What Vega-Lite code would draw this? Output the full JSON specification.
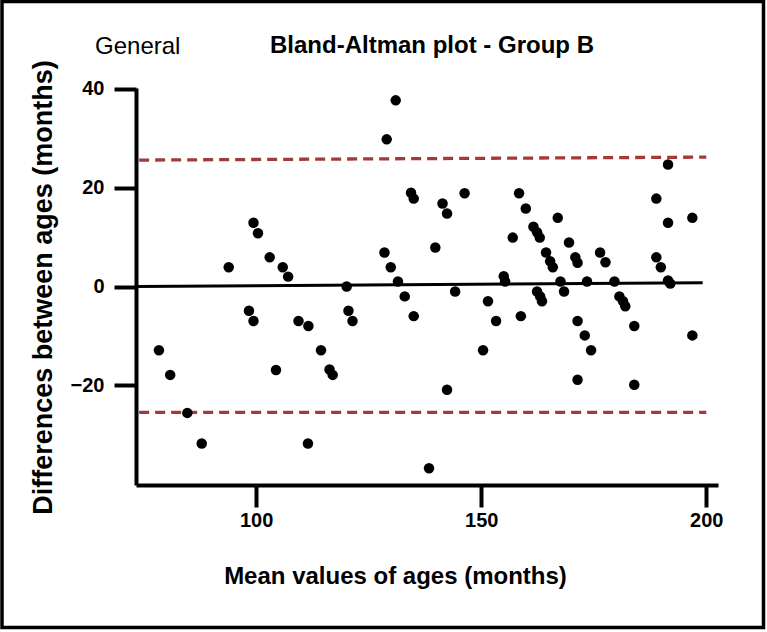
{
  "$schema": "https://vega.github.io/schema/vega-lite/v6.json",
  "width": 582,
  "height": 397,
  "autosize": {"type": "none"},
  "padding": {"left": 136, "top": 88, "right": 49, "bottom": 147},
  "background": "white",
  "config": {"view": {"stroke": null}, "font": "Liberation Sans"},
  "title": {
    "text": "Bland-Altman plot - Group B",
    "font": "Liberation Sans",
    "fontSize": 24,
    "fontWeight": "bold",
    "color": "black",
    "anchor": "middle",
    "dx": 5,
    "offset": -58
  },
  "datasets": {
    "points": [
      {"mean": 78.4, "diff": -12.9}, {"mean": 80.9, "diff": -17.9}, {"mean": 84.7, "diff": -25.6}, {"mean": 87.9, "diff": -31.8},
      {"mean": 93.9, "diff": 3.9}, {"mean": 99.4, "diff": 12.9}, {"mean": 100.4, "diff": 10.8}, {"mean": 98.4, "diff": -4.9},
      {"mean": 99.4, "diff": -7.0}, {"mean": 103.0, "diff": 5.9}, {"mean": 104.4, "diff": -16.9}, {"mean": 105.9, "diff": 3.9},
      {"mean": 107.1, "diff": 2.0}, {"mean": 109.4, "diff": -7.0}, {"mean": 111.6, "diff": -8.0}, {"mean": 111.5, "diff": -31.8},
      {"mean": 114.4, "diff": -12.9}, {"mean": 116.3, "diff": -16.8}, {"mean": 117.0, "diff": -17.9}, {"mean": 120.1, "diff": 0.0},
      {"mean": 120.5, "diff": -4.9}, {"mean": 121.4, "diff": -7.0}, {"mean": 128.5, "diff": 6.9}, {"mean": 129.0, "diff": 29.8},
      {"mean": 131.0, "diff": 37.7}, {"mean": 129.9, "diff": 3.9}, {"mean": 131.5, "diff": 1.0}, {"mean": 133.0, "diff": -2.0},
      {"mean": 135.0, "diff": -6.0}, {"mean": 134.4, "diff": 19.0}, {"mean": 135.0, "diff": 17.8}, {"mean": 138.4, "diff": -36.8},
      {"mean": 139.8, "diff": 7.9}, {"mean": 141.4, "diff": 16.8}, {"mean": 142.4, "diff": 14.8}, {"mean": 142.4, "diff": -20.9},
      {"mean": 144.2, "diff": -1.0}, {"mean": 146.3, "diff": 18.9}, {"mean": 150.4, "diff": -12.9}, {"mean": 151.5, "diff": -3.0},
      {"mean": 153.3, "diff": -7.0}, {"mean": 155.0, "diff": 2.1}, {"mean": 155.3, "diff": 1.0}, {"mean": 158.8, "diff": -6.0},
      {"mean": 157.0, "diff": 9.9}, {"mean": 158.4, "diff": 18.9}, {"mean": 159.9, "diff": 15.8}, {"mean": 161.6, "diff": 12.1},
      {"mean": 162.4, "diff": 11.0}, {"mean": 163.0, "diff": 9.9}, {"mean": 164.4, "diff": 6.9}, {"mean": 165.3, "diff": 5.1},
      {"mean": 165.9, "diff": 3.9}, {"mean": 162.4, "diff": -1.0}, {"mean": 163.1, "diff": -2.0}, {"mean": 163.5, "diff": -3.0},
      {"mean": 167.0, "diff": 13.9}, {"mean": 167.6, "diff": 1.0}, {"mean": 168.4, "diff": -1.0}, {"mean": 169.5, "diff": 8.9},
      {"mean": 170.9, "diff": 5.9}, {"mean": 171.4, "diff": 4.8}, {"mean": 171.4, "diff": -7.0}, {"mean": 173.0, "diff": -9.9},
      {"mean": 171.4, "diff": -18.9}, {"mean": 173.5, "diff": 1.0}, {"mean": 174.4, "diff": -12.9}, {"mean": 176.4, "diff": 6.9},
      {"mean": 177.6, "diff": 4.9}, {"mean": 179.6, "diff": 1.0}, {"mean": 180.7, "diff": -2.0}, {"mean": 181.5, "diff": -3.0},
      {"mean": 182.0, "diff": -4.0}, {"mean": 184.0, "diff": -8.0}, {"mean": 184.0, "diff": -19.9}, {"mean": 188.9, "diff": 17.8},
      {"mean": 188.9, "diff": 5.9}, {"mean": 189.9, "diff": 3.9}, {"mean": 191.5, "diff": 24.7}, {"mean": 191.5, "diff": 12.9},
      {"mean": 191.5, "diff": 1.2}, {"mean": 192.0, "diff": 0.6}, {"mean": 196.9, "diff": 13.9}, {"mean": 196.9, "diff": -9.9}
    ],
    "lines": [
      {"kind": "mean", "x1": 73.3, "y1": 0.0, "x2": 199.2, "y2": 0.75},
      {"kind": "upper", "x1": 74.0, "y1": 25.6, "x2": 200.0, "y2": 26.2},
      {"kind": "lower", "x1": 74.0, "y1": -25.5, "x2": 200.0, "y2": -25.5}
    ],
    "labels": [{"label": "General"}]
  },
  "layer": [
    {
      "data": {"values": [{}]},
      "mark": {"type": "rect", "fill": null, "stroke": "black", "strokeWidth": 3.5, "clip": false},
      "encoding": {
        "x": {"datum": 43.53, "type": "quantitative", "scale": {"domain": [73.3, 202.6], "nice": false, "zero": false}, "axis": {"title": "Mean values of ages (months)", "values": [100, 150, 200], "grid": false, "domainColor": "black", "domainWidth": 4, "tickColor": "black", "tickWidth": 4, "tickSize": 22, "labelFont": "Liberation Sans", "labelFontSize": 20, "labelFontWeight": "bold", "labelColor": "black", "labelPadding": 3, "titleFont": "Liberation Sans", "titleFontSize": 24, "titleFontWeight": "bold", "titleColor": "black", "titleX": 259, "titleY": 98, "titleBaseline": "alphabetic", "titleAlign": "center", "titleAnchor": null}},
        "x2": {"datum": 212.71},
        "y": {"datum": 57.72, "type": "quantitative", "scale": {"domain": [-40.2, 40.2], "nice": false, "zero": false}, "axis": {"title": "Differences between ages (months)", "values": [-20, 0, 20, 40], "grid": false, "domainColor": "black", "domainWidth": 4, "tickColor": "black", "tickWidth": 4, "tickSize": 22, "labelFont": "Liberation Sans", "labelFontSize": 20, "labelFontWeight": "bold", "labelColor": "black", "labelPadding": 10, "titleFont": "Liberation Sans", "titleFontSize": 27, "titleFontWeight": "bold", "titleColor": "black", "titleX": -85, "titleY": 199, "titleBaseline": "alphabetic", "titleAlign": "center", "titleAngle": -90, "titleAnchor": null}},
        "y2": {"datum": -69.06}
      }
    },
    {
      "data": {"name": "lines"},
      "transform": [{"filter": "datum.kind !== 'mean'"}],
      "mark": {"type": "rule", "color": "#a33a3a", "strokeWidth": 3.3, "strokeDash": [10, 6]},
      "encoding": {
        "x": {"field": "x1", "type": "quantitative", "scale": {"domain": [73.3, 202.6], "nice": false, "zero": false}},
        "x2": {"field": "x2"},
        "y": {"field": "y1", "type": "quantitative", "scale": {"domain": [-40.2, 40.2], "nice": false, "zero": false}},
        "y2": {"field": "y2"}
      }
    },
    {
      "data": {"name": "lines"},
      "transform": [{"filter": "datum.kind === 'mean'"}],
      "mark": {"type": "rule", "color": "black", "strokeWidth": 3},
      "encoding": {
        "x": {"field": "x1", "type": "quantitative", "scale": {"domain": [73.3, 202.6], "nice": false, "zero": false}},
        "x2": {"field": "x2"},
        "y": {"field": "y1", "type": "quantitative", "scale": {"domain": [-40.2, 40.2], "nice": false, "zero": false}},
        "y2": {"field": "y2"}
      }
    },
    {
      "data": {"name": "points"},
      "mark": {"type": "circle", "size": 110, "color": "black", "opacity": 1},
      "encoding": {
        "x": {"field": "mean", "type": "quantitative", "scale": {"domain": [73.3, 202.6], "nice": false, "zero": false}},
        "y": {"field": "diff", "type": "quantitative", "scale": {"domain": [-40.2, 40.2], "nice": false, "zero": false}}
      }
    },
    {
      "data": {"name": "labels"},
      "mark": {"type": "text", "align": "left", "baseline": "alphabetic", "font": "Liberation Sans", "fontSize": 24, "color": "black"},
      "encoding": {
        "text": {"field": "label"},
        "x": {"datum": 64.2, "type": "quantitative", "scale": {"domain": [73.3, 202.6], "nice": false, "zero": false}},
        "y": {"datum": 47.1, "type": "quantitative", "scale": {"domain": [-40.2, 40.2], "nice": false, "zero": false}}
      }
    }
  ]
}
